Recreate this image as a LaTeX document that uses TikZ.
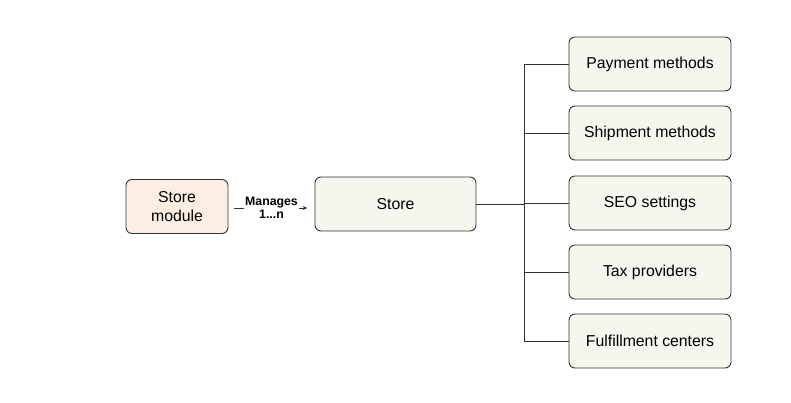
\documentclass[tikz,border=0pt]{standalone}
\usepackage{fontspec}
\setmainfont{Liberation Sans}
\usetikzlibrary{arrows.meta}
\definecolor{peach}{HTML}{FCEEE3}
\definecolor{cream}{HTML}{F6F6EF}
\definecolor{edge}{HTML}{333333}
\tikzset{
  box/.style={draw=edge, line width=0.9pt, rounded corners=6pt, minimum height=54pt, align=center, font=\fontsize{15.8}{18.5}\selectfont, text=black, inner sep=2pt},
  modbox/.style={box, fill=peach, minimum width=102pt},
  storebox/.style={box, fill=cream, minimum width=161pt},
  itembox/.style={box, fill=cream, minimum width=162pt},
  conn/.style={draw=edge, line width=0.9pt},
  lbl/.style={fill=white, font=\fontsize{12.3}{13.5}\selectfont\bfseries, align=center, inner sep=1pt}
}
\begin{document}
\begin{tikzpicture}[x=1pt, y=-1pt]
\useasboundingbox (0,0) rectangle (791,402);
\node[modbox] (mod) at (177,206.5) {Store\\module};
\node[storebox] (store) at (395.5,204) {Store};
\node[itembox] (pay) at (650,64) {Payment methods};
\node[itembox] (ship) at (650,133) {Shipment methods};
\node[itembox] (seo) at (650,203) {SEO settings};
\node[itembox] (tax) at (650,272) {Tax providers};
\node[itembox] (ful) at (650,341) {Fulfillment centers};
\coordinate (trunk) at (524,204);
\draw[conn, -{Stealth[length=5pt,width=4pt]}, shorten <=6pt, shorten >=7pt] (mod.east |- 0,208) -- node[lbl] (lab) {Manages\\1...n} (store.west |- 0,208);
\draw[conn] (store.east) -- (trunk);
\draw[conn] (trunk |- pay.west) -- (trunk |- ful.west);
\foreach \n in {pay,ship,seo,tax,ful}
  \draw[conn] (trunk |- \n.west) -- (\n.west);
\end{tikzpicture}
\end{document}
